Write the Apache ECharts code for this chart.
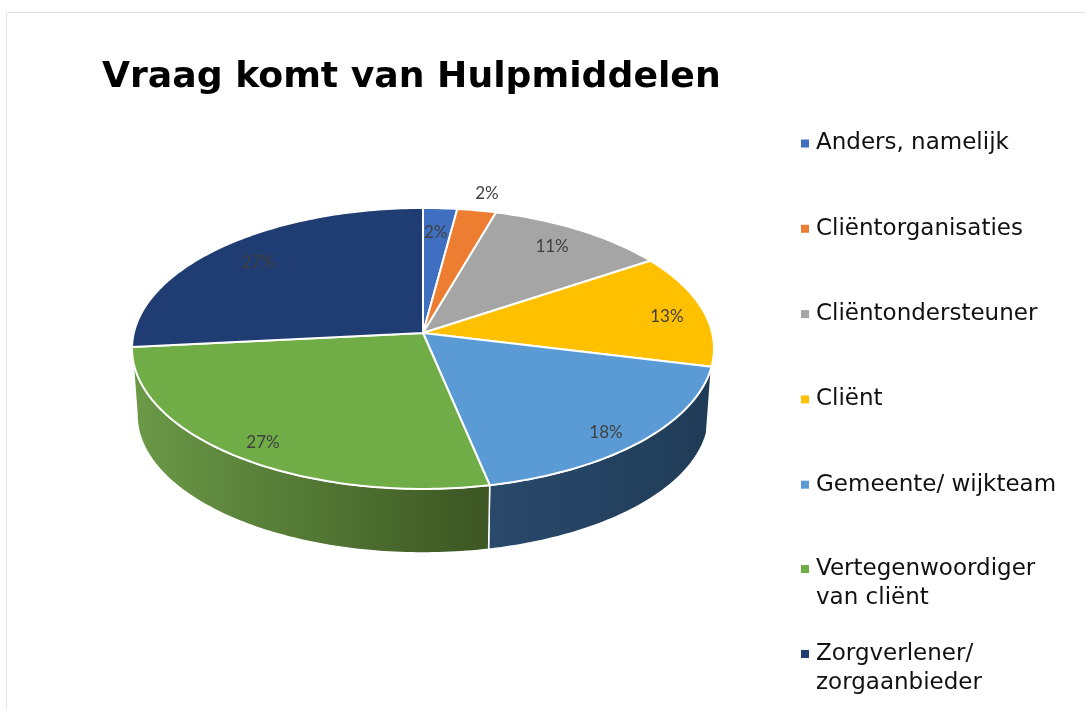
<!DOCTYPE html>
<html>
<head>
<meta charset="utf-8">
<title>Vraag komt van Hulpmiddelen</title>
<script src="https://cdn.jsdelivr.net/npm/echarts@6/dist/echarts.min.js"></script>
<style>
	html, body { margin: 0; padding: 0; background: #fff; }
	#pieChart { width: 1085px; height: 709px; }
</style>
</head>
<body>
<div id="pieChart"></div>
<script>
var chartTitle = 'Vraag komt van Hulpmiddelen';
var categories = ['Anders, namelijk', 'Cliëntorganisaties', 'Cliëntondersteuner', 'Cliënt', 'Gemeente/ wijkteam', 'Vertegenwoordiger\nvan cliënt', 'Zorgverlener/\nzorgaanbieder'];
var shares = [2.1, 2.4, 11.2, 13.1, 17.9, 26.7, 26.6];

var colors = ['#3f6fc0', '#ed7d31', '#a5a5a5', '#ffc000', '#5b9bd5', '#70ad47', '#1f3d73'];
// zijkant van de taart, alleen de twee segmenten aan de voorkant
var wallStops = [null, null, null, null, ['#2a4a6c', '#1f3b56'], ['#6b9a48', '#3c5522'], null];
// label afstand vanaf het midden, 1 = rand van de taart
var labelRadius = [0.78, 1.15, 0.82, 0.87, 0.87, 0.88, 0.82];
// kleine correctie in pixels, excel zet de labels niet precies op de straal
var labelShift = [[-1, -1], [3, 0], [-2, -1], [0, 4], [-5, 6], [3, 3], [1, 1]];

var total = shares.reduce(function(a, b) { return a + b; }, 0);

// schuine projectie van een cirkel, het midden ligt niet in het midden van de ellips
var pie = { cx: 423, cy: 333, sx: 289.2, sy: 138.8, p: -0.11 };
var base = { cx: 423, cy: 399.7, sx: 284.3, sy: 136.4, p: -0.11 };
var wallFrom = 96.3, wallTo = 264;

var project = function(plane, deg, r) {
	var a = deg * Math.PI / 180;
	var u = Math.sin(a) * r, v = -Math.cos(a) * r;
	var k = 1 + plane.p * v;
	return [plane.cx + plane.sx * u / k, plane.cy + plane.sy * v / k];
};

var arcPoints = function(plane, from, to) {
	var pts = [];
	for (var d = from; d < to; d += 1) {
		pts.push(project(plane, d, 1));
	}
	pts.push(project(plane, to, 1));
	return pts;
};

var startOf = function(index) {
	var sum = 0;
	for (var i = 0; i < index; i++) {
		sum += shares[i];
	}
	return sum / total * 360;
};

var renderSlice = function(index) {
	return function(params, api) {
		var value = api.value(0);
		var from = startOf(index);
		var to = from + value / total * 360;
		var mid = (from + to) / 2;
		var children = [];

		if (wallStops[index]) {
			var a = Math.max(from, wallFrom), b = Math.min(to, wallTo);
			var wall = arcPoints(pie, a, b).concat(arcPoints(base, a, b).reverse());
			children.push({
				type: 'polygon',
				shape: { points: wall },
				style: {
					fill: new echarts.graphic.LinearGradient(0, 0, 1, 0, [
						{ offset: 0, color: wallStops[index][0] },
						{ offset: 1, color: wallStops[index][1] }
					]),
					stroke: '#fff',
					lineWidth: 1.5
				}
			});
		}

		children.push({
			type: 'polygon',
			shape: { points: [project(pie, 0, 0)].concat(arcPoints(pie, from, to)) },
			style: { fill: colors[index], stroke: '#fff', lineWidth: 2, lineJoin: 'round' }
		});

		var pos = project(pie, mid, labelRadius[index]);
		children.push({
			type: 'text',
			z2: 10,
			style: {
				x: pos[0] + labelShift[index][0],
				y: pos[1] + labelShift[index][1],
				text: Math.round(value / total * 100) + '%',
				fill: '#404040',
				font: '17px Lato',
				align: 'center',
				verticalAlign: 'middle'
			}
		});
		return { type: 'group', children: children };
	};
};

var series = categories.map(function(name, i) {
	return {
		name: name,
		type: 'custom',
		coordinateSystem: 'none',
		itemStyle: { color: colors[i] },
		renderItem: renderSlice(i),
		data: [[shares[i]]],
		z: i
	};
});

var legendText = { fontFamily: 'DejaVu Sans', fontSize: 23, color: '#111', lineHeight: 29, padding: [0, 0, 0, 2] };
// leeg puntje onderaan zodat het blokje bij de eerste regel blijft staan
var topIcon = 'path://M0 0H8V8H0Z M0 38H0.01V38.01H0Z';

var option = {
	backgroundColor: '#fff',
	animation: false,
	title: {
		text: chartTitle,
		left: 97,
		top: 55,
		textStyle: { fontFamily: 'DejaVu Sans', fontWeight: 'bold', fontSize: 36.2, color: '#000' }
	},
	legend: [{
		orient: 'vertical',
		left: 796,
		top: 124,
		itemGap: 56.3,
		itemWidth: 8,
		itemHeight: 8,
		icon: 'rect',
		selectedMode: false,
		textStyle: legendText,
		data: categories.slice(0, 5)
	}, {
		orient: 'vertical',
		left: 796,
		top: 550,
		itemWidth: 8,
		itemHeight: 38,
		icon: topIcon,
		selectedMode: false,
		textStyle: legendText,
		data: [categories[5]]
	}, {
		orient: 'vertical',
		left: 796,
		top: 635,
		itemWidth: 8,
		itemHeight: 38,
		icon: topIcon,
		selectedMode: false,
		textStyle: legendText,
		data: [categories[6]]
	}],
	graphic: [{
		type: 'rect',
		silent: true,
		z: -1,
		shape: { x: 6.5, y: 12.5, width: 1300, height: 900 },
		style: { fill: 'none', stroke: '#e2e2e2', lineWidth: 1 }
	}],
	series: series
};

var byId = function(id) {
	return document.getElementById(id);
};
var pieChart = echarts.init(byId('pieChart'));
pieChart.setOption(option);
</script>
</body>
</html>
